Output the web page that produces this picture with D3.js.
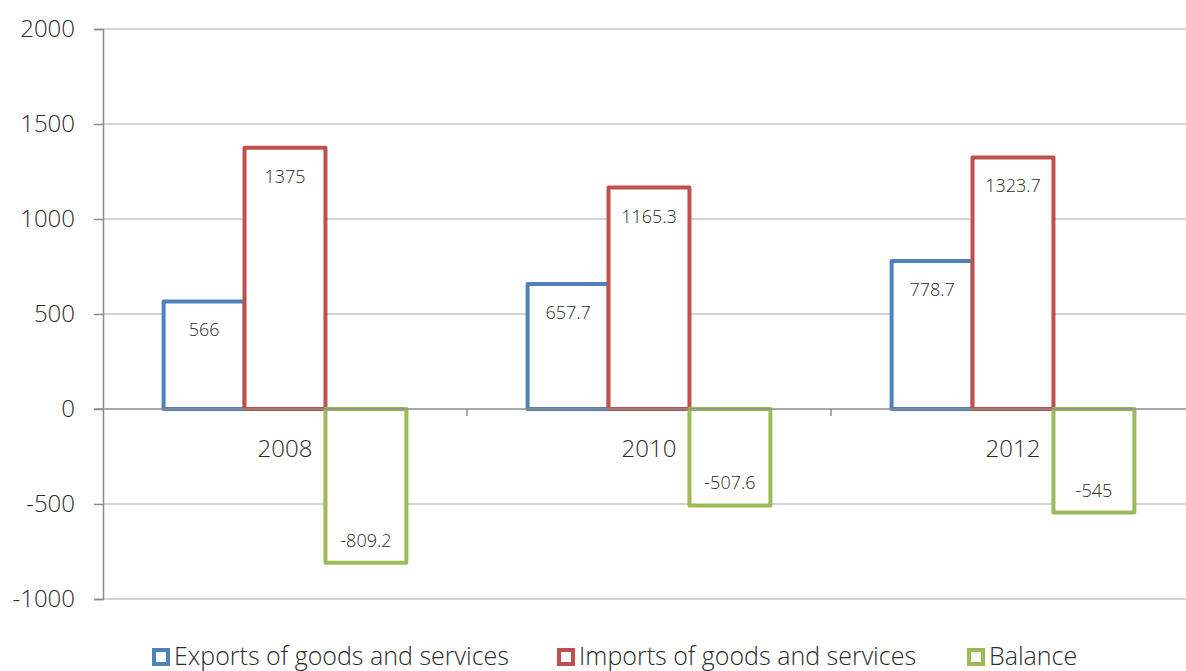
<!DOCTYPE html>
<html>
<head>
<meta charset="utf-8">
<script src="https://cdn.jsdelivr.net/npm/d3@7"></script>
<style>
  html, body { margin: 0; padding: 0; background: #fff; }
  svg { display: block; font-family: "Open Sans", "Noto Sans", sans-serif; }
</style>
</head>
<body>
<svg id="chart" width="1186" height="671"></svg>
<script>
// Trade figures by year
const years = ["2008", "2010", "2012"];
const seriesNames = ["Exports of goods and services", "Imports of goods and services", "Balance"];
const exportsValues = [566, 657.7, 778.7];
const importsValues = [1375, 1165.3, 1323.7];
const balanceValues = [-809.2, -507.6, -545];
const yTicks = [-1000, -500, 0, 500, 1000, 1500, 2000];
const seriesColors = ["#4F81BD", "#C0504D", "#9BBB59"];

const seriesValues = [exportsValues, importsValues, balanceValues];
const svg = d3.select("#chart");
const textColor = "#2b2b2b";

const plotLeft = 103, plotRight = 1195, plotTop = 29, plotBottom = 599;

const y = d3.scaleLinear().domain([-1000, 2000]).range([plotBottom, plotTop]);
const x0 = d3.scaleBand().domain(years).range([plotLeft, plotRight]).paddingInner(0).paddingOuter(0);
const groupWidth = x0.bandwidth() * 0.667;
const x1 = d3.scaleBand().domain(d3.range(seriesNames.length))
  .range([(x0.bandwidth() - groupWidth) / 2, (x0.bandwidth() + groupWidth) / 2]);

// Horizontal gridlines
svg.append("g").selectAll("line").data(yTicks.filter(t => t !== 0)).join("line")
  .attr("x1", plotLeft).attr("x2", 1186)
  .attr("y1", d => y(d)).attr("y2", d => y(d))
  .attr("stroke", "#c6c6c6").attr("stroke-width", 1.3);

// Y axis (plain hyphen for negatives)
const yAxis = d3.axisLeft(y).tickValues(yTicks).tickSize(9).tickPadding(19).tickFormat(d => String(d));
const gy = svg.append("g").attr("transform", `translate(${plotLeft},0)`).call(yAxis)
  .attr("font-family", null).attr("font-size", null);
gy.select(".domain").attr("stroke", "#8c8c8c").attr("stroke-width", 1.5);
gy.selectAll(".tick line").attr("stroke", "#8c8c8c").attr("stroke-width", 1.5);
gy.selectAll(".tick text").attr("fill", textColor).style("font-size", "24px").style("font-weight", 300);

// Bars (outlined, white fill)
const groups = svg.append("g").selectAll("g").data(years).join("g")
  .attr("transform", d => `translate(${x0(d)},0)`);

groups.selectAll("rect").data((d, i) => seriesValues.map((vals, s) => ({ s, v: vals[i] }))).join("rect")
  .attr("x", d => x1(d.s))
  .attr("width", x1.bandwidth())
  .attr("y", d => y(Math.max(0, d.v)))
  .attr("height", d => Math.abs(y(d.v) - y(0)))
  .attr("fill", "#fff")
  .attr("stroke", d => seriesColors[d.s])
  .attr("stroke-width", 4)
  .attr("stroke-linejoin", "round");

// Zero axis with category ticks
const gx = svg.append("g").attr("transform", `translate(0,${y(0)})`);
gx.append("line").attr("x1", plotLeft - 9).attr("x2", 1186).attr("y1", 0).attr("y2", 0)
  .attr("stroke", "#8c8c8c").attr("stroke-width", 1.5);
gx.selectAll("line.tk").data(years.slice(1)).join("line").attr("class", "tk")
  .attr("x1", d => x0(d)).attr("x2", d => x0(d)).attr("y1", 0).attr("y2", 7)
  .attr("stroke", "#8c8c8c").attr("stroke-width", 1.5);
gx.selectAll("text").data(years).join("text")
  .attr("x", d => x0(d) + x0.bandwidth() / 2)
  .attr("y", 48)
  .attr("text-anchor", "middle")
  .attr("fill", textColor).style("font-size", "24px").style("font-weight", 300)
  .text(d => d);

// Value labels inside bar ends
groups.selectAll("text").data((d, i) => seriesValues.map((vals, s) => ({ s, v: vals[i] }))).join("text")
  .attr("x", d => x1(d.s) + x1.bandwidth() / 2)
  .attr("y", d => d.v >= 0 ? y(d.v) + 35 : y(d.v) - 16)
  .attr("text-anchor", "middle")
  .attr("fill", textColor).style("font-size", "18px").style("font-weight", 300)
  .text(d => d.v);

// Legend
const legendX = [152, 557, 967];
const legend = svg.append("g").selectAll("g").data(seriesNames).join("g")
  .attr("transform", (d, i) => `translate(${legendX[i]},648)`);
legend.append("rect").attr("x", 2).attr("y", 2).attr("width", 14).attr("height", 14)
  .attr("fill", "#fff").attr("stroke", (d, i) => seriesColors[i]).attr("stroke-width", 4);
legend.append("text").attr("x", 22).attr("y", 17)
  .attr("fill", textColor).style("font-size", "25px").style("font-weight", 300)
  .text(d => d);
</script>
</body>
</html>
